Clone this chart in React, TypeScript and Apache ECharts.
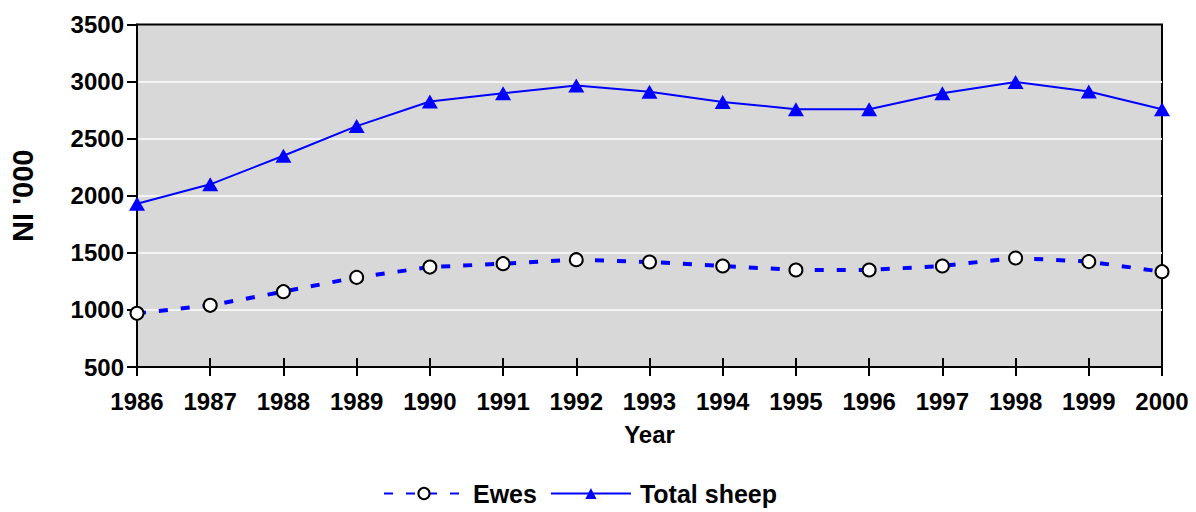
import React, { useEffect, useRef } from "react";
import * as echarts from "echarts";

const years = ["1986","1987","1988","1989","1990","1991","1992","1993","1994","1995","1996","1997","1998","1999","2000"];
const ewes = [970, 1040, 1160, 1285, 1375, 1405, 1440, 1420, 1385, 1350, 1350, 1385, 1455, 1423, 1335];
const totalSheep = [1930, 2100, 2350, 2610, 2825, 2898, 2965, 2910, 2822, 2758, 2758, 2898, 2997, 2913, 2758];

const FONT = "'Liberation Sans', Arial, sans-serif";

export default function App() {
  const ref = useRef<HTMLDivElement>(null);
  useEffect(() => {
    if (!ref.current) return;
    const chart = echarts.init(ref.current, null, { renderer: "svg" });
    chart.setOption({
      animation: false,
      backgroundColor: "#ffffff",
      textStyle: { fontFamily: FONT },
      grid: {
        left: 133, right: 34, top: 24.5, bottom: 145,
        show: true, backgroundColor: "#d8d8d8", borderColor: "#000", borderWidth: 2,
      },
      legend: {
        top: 476, left: 378, itemWidth: 80, itemHeight: 14, itemGap: 13,
        textStyle: { fontFamily: FONT, fontWeight: "bold", fontSize: 25, color: "#000", padding: [0, 0, 0, 4] },
        data: ["Ewes", "Total sheep"],
      },
      xAxis: [
        {
          type: "category", data: years, boundaryGap: false, position: "bottom",
          name: "Year", nameLocation: "middle", nameGap: 55,
          nameTextStyle: { fontFamily: FONT, fontWeight: "bold", fontSize: 24, color: "#000" },
          axisLine: { lineStyle: { color: "#000", width: 2 } },
          axisTick: { show: true, length: 9, alignWithLabel: true, lineStyle: { color: "#000", width: 2 } },
          axisLabel: { margin: 22, fontFamily: FONT, fontWeight: "bold", fontSize: 24, color: "#000", interval: 0 },
          splitLine: { show: false },
        },
        {
          type: "category", data: years, boundaryGap: false, position: "bottom",
          axisLine: { show: false },
          axisTick: { show: true, inside: true, length: 9, lineStyle: { color: "#000", width: 2 } },
          axisLabel: { show: false },
          splitLine: { show: false },
        },
      ],
      yAxis: {
        type: "value", min: 500, max: 3500, interval: 500,
        name: "NI '000", nameLocation: "middle", nameGap: 100, nameRotate: 90,
        nameTextStyle: { fontFamily: FONT, fontWeight: "bold", fontSize: 29, color: "#000" },
        axisLine: { show: true, lineStyle: { color: "#000", width: 2 } },
        axisTick: { show: true, length: 10, lineStyle: { color: "#000", width: 2 } },
        axisLabel: { margin: 13, fontFamily: FONT, fontWeight: "bold", fontSize: 24, color: "#000", formatter: (v: number) => String(v) },
        splitLine: { show: true, showMinLine: false, showMaxLine: false, lineStyle: { color: "#f4f4f4", width: 2 } },
      },
      series: [
        {
          name: "Ewes", type: "line", data: ewes, xAxisIndex: 0,
          symbol: "circle", symbolSize: 13,
          itemStyle: { color: "#ffffff", borderColor: "#000000", borderWidth: 2 },
          lineStyle: { color: "#0000ff", width: 4, type: [9, 13] },
          z: 3,
        },
        {
          name: "Total sheep", type: "line", data: totalSheep, xAxisIndex: 0,
          symbol: "triangle", symbolSize: [16, 14],
          itemStyle: { color: "#0000ff", borderWidth: 0 },
          lineStyle: { color: "#0000ff", width: 2 },
          z: 3,
        },
      ],
    });
    return () => chart.dispose();
  }, []);
  return <div ref={ref} style={{ width: 1196, height: 512, position: "absolute", left: 0, top: 0 }} />;
}
